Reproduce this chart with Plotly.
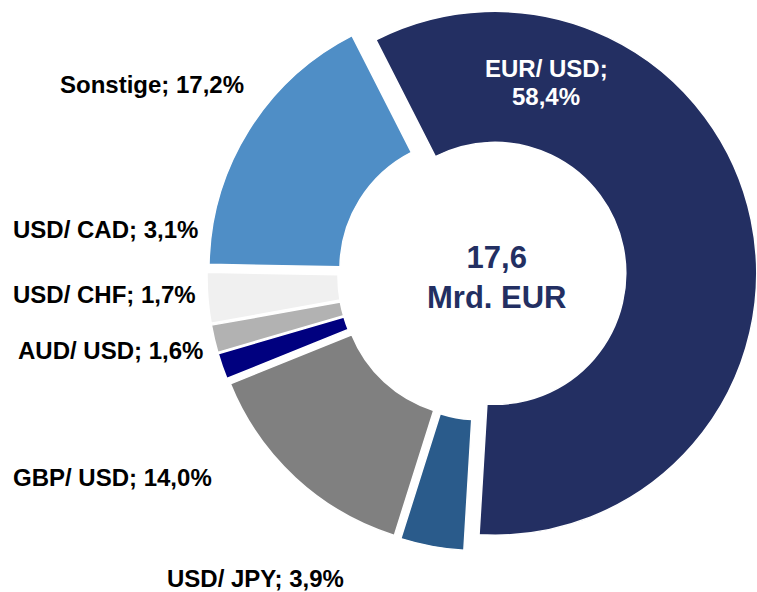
import plotly.graph_objects as go

# Devisenhandel nach Waehrungspaaren (Anteil in %)
paare = ["EUR/ USD", "USD/ JPY", "GBP/ USD", "AUD/ USD", "USD/ CHF", "USD/ CAD", "Sonstige"]
anteile = [58.4, 3.9, 14.0, 1.6, 1.7, 3.1, 17.2]
farben = ["#232F62", "#2A5B8B", "#808080", "#00007F", "#B2B2B2", "#F0F0F0", "#4F8EC6"]
summe_text = "17,6<br>Mrd. EUR"

W, H = 757, 592
FONT = "Liberation Sans, Arial"


def fmt(name, wert):
    return f"{name}; {wert:.1f}%".replace(".", ",")


fig = go.Figure(
    go.Pie(
        labels=paare,
        values=anteile,
        sort=False,
        direction="clockwise",
        rotation=-27,
        hole=0.5,
        pull=0.05,
        marker=dict(colors=farben, line=dict(color="white", width=1.5)),
        textinfo="none",
        hoverinfo="label+percent",
        showlegend=False,
        domain=dict(x=[207 / W, 1.0], y=[0.0693, 0.9984]),
    )
)

# Beschriftungen (Pixelpositionen in Papierkoordinaten)
label_pos = {
    "USD/ JPY": (255, 578),
    "GBP/ USD": (112, 477),
    "AUD/ USD": (110, 350),
    "USD/ CHF": (104, 295),
    "USD/ CAD": (105, 230),
    "Sonstige": (152, 84),
}


def anno(text, px, py, size, farbe):
    return dict(
        text=f"<b>{text}</b>",
        x=px / W,
        y=1 - py / H,
        xref="paper",
        yref="paper",
        xanchor="center",
        yanchor="middle",
        showarrow=False,
        font=dict(family=FONT, size=size, color=farbe),
    )


annotations = []
for name, wert in zip(paare, anteile):
    text = fmt(name, wert)
    if name == "EUR/ USD":
        # zweizeilig im Segment, weiss
        teil1, teil2 = text.split("; ")
        annotations.append(anno(teil1 + ";", 546, 68, 24, "white"))
        annotations.append(anno(teil2, 546, 96, 24, "white"))
        continue
    px, py = label_pos[name]
    annotations.append(anno(text, px, py, 24, "black"))

annotations.append(anno(summe_text, 497, 277, 31, "#232F62"))

fig.update_layout(
    width=W,
    height=H,
    margin=dict(l=0, r=0, t=0, b=0),
    paper_bgcolor="white",
    plot_bgcolor="white",
    annotations=annotations,
)

fig.write_html(
    "out.html",
    config={"displayModeBar": False},
    post_script="document.body.style.margin='0';",
)
